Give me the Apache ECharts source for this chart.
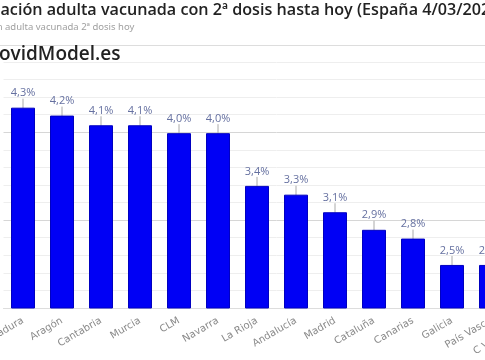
<!DOCTYPE html>
<html><head><meta charset="utf-8">
<script src="https://cdn.jsdelivr.net/npm/echarts@6/dist/echarts.min.js"></script>
<style>
html,body{margin:0;padding:0;width:485px;height:360px;overflow:hidden;background:#fff;position:relative}
#c{position:absolute;left:-50px;top:0;width:650px;height:360px}
</style></head>
<body><div id="c"></div>
<script>
const categories = ['Extremadura','Aragón','Cantabria','Murcia','CLM','Navarra','La Rioja','Andalucía','Madrid','Cataluña','Canarias','Galicia','País Vasco','C Valenciana'];
const values = [4.28, 4.19, 4.08, 4.08, 3.99, 3.99, 3.39, 3.29, 3.09, 2.89, 2.79, 2.49, 2.49, 2.40];
const yMin = 2.0, yMax = 4.8, yInterval = 0.2;
const titleText = '% Población adulta vacunada con 2ª dosis hasta hoy (España 4/03/2021)';
const titlePrefix = '% Pobl';
const titleVisible = 'ación adulta vacunada con 2ª dosis hasta hoy (España 4/03/202';
const subtitleText = '% Población adulta vacunada 2ª dosis hoy';
const subtitlePrefix = '% Población ';
const brandText = 'CovidModel.es';
const brandPrefix = 'C';

const OFF = 50; // container offset
const mctx = document.createElement('canvas').getContext('2d');
function w(font, s){ mctx.font = font; return mctx.measureText(s).width; }
const tSize = (15 * 490 / w('600 15px "Open Sans"', titleVisible)).toFixed(2);
const titleFont = '600 ' + tSize + 'px "Open Sans"';
const subFont = '9.5px "Noto Sans"';
const brandFont = '600 19px "Open Sans"';

const chart = echarts.init(document.getElementById('c'), null, {renderer:'canvas'});
const fmt = p => p.value.toFixed(1).replace('.', ',') + '%';
chart.setOption({
  animation:false,
  backgroundColor:'#fff',
  graphic:[
    {type:'text', x: OFF + 0.5 - w(titleFont, titlePrefix), y: 10, style:{text: titleText, font: titleFont, fill:'#222', verticalAlign:'middle'}},
    {type:'text', x: OFF + 5 - w(subFont, subtitlePrefix), y: 27, style:{text: subtitleText, font: subFont, fill:'#a0a0a0', verticalAlign:'middle'}},
    {type:'line', shape:{x1:0,y1:45.5,x2:650,y2:45.5}, style:{stroke:'#ddd', lineWidth:1}},
    {type:'text', x: OFF - 1 - w(brandFont, brandPrefix), y: 55, style:{text: brandText, font: brandFont, fill:'#222', verticalAlign:'middle'}}
  ],
  grid:{left:53.5, width:546, top:62, bottom:52, containLabel:false},
  xAxis:{type:'category', data:categories,
    axisLine:{show:true, lineStyle:{color:'#ddd'}}, axisTick:{show:false},
    axisLabel:{rotate:30, fontSize:10, color:'#8a8a8a', fontFamily:'DejaVu Sans', margin:12, interval:0}},
  yAxis:{type:'value', min:yMin, max:yMax, interval:yInterval,
    axisLabel:{show:false}, axisLine:{show:false}, axisTick:{show:false},
    splitLine:{lineStyle:{color:['#d6d6d6','#eeeeee','#eeeeee','#eeeeee','#eeeeee'], width:1}}},
  series:[{type:'bar', data:values, barWidth:24,
    itemStyle:{color:'#0000f5', borderColor:'#0000c0', borderWidth:1},
    label:{show:true, position:'top', distance:4, fontSize:11, color:'#6570a0', fontFamily:'Open Sans', formatter:fmt},
    labelLayout:{dy:-5},
    labelLine:{show:true, lineStyle:{color:'#aaa', width:1}}
  }]
});
</script></body></html>
